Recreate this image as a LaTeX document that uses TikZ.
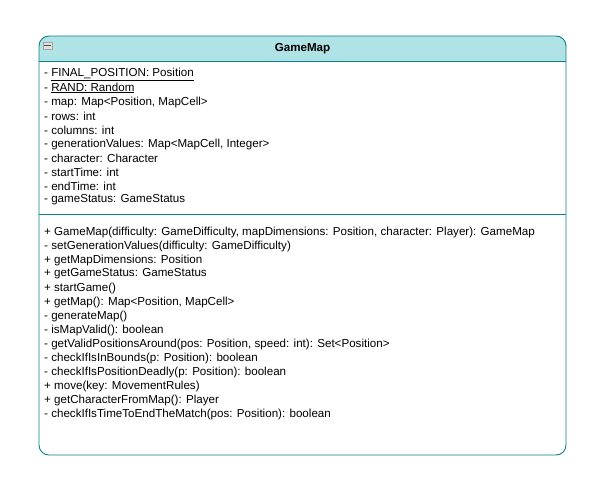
\documentclass[tikz,border=0pt]{standalone}
\usepackage{fontspec}
\setmainfont{Liberation Sans}
\definecolor{headfill}{HTML}{B0E3E6}
\definecolor{headline}{HTML}{0E8088}
\tikzset{member/.style={anchor=west,inner sep=0pt,font=\fontsize{11.6}{13}\selectfont},
  foldbox/.style={draw=gray!70,fill=gray!25,inner sep=0pt,minimum width=9pt,minimum height=7pt}}

\begin{document}
\begin{tikzpicture}[x=1pt,y=-1pt]
\useasboundingbox (0,0) rectangle (597,493);
\fill[headfill] (39,61) {[rounded corners=10pt] -- (39,36) -- (566,36)} -- (566,61) -- cycle;
\draw[headline,line width=0.9pt,rounded corners=10pt] (39,36) rectangle (566,455);
\draw[headline,line width=0.9pt] (39,61) -- (566,61);
\draw[headline,line width=0.9pt] (39,214) -- (566,214);
\node[foldbox] (fold) at (47.5,45.5) {};
\draw[black!70,line width=1.2pt] ([xshift=1.5pt]fold.west) -- ([xshift=-1.5pt]fold.east);
\node[font=\fontsize{11.6}{13}\selectfont\bfseries] (title) at (302.5,48.5) {GameMap};
% attributes
\foreach \t [count=\i] in {- \underline{FINAL\_POSITION: Position}, - \underline{RAND: Random},
  {- map: Map<Position, MapCell>}, - rows: int, - columns: int,
  {- generationValues: Map<MapCell, Integer>}, - character: Character,
  - startTime: int, - endTime: int, - gameStatus: GameStatus}
  \node[member] (attr\i) at (44,74+14*\i-14) {\t};
% methods
\foreach \t [count=\i] in {{+ GameMap(difficulty: GameDifficulty, mapDimensions: Position, character: Player): GameMap},
  - setGenerationValues(difficulty: GameDifficulty), + getMapDimensions: Position,
  + getGameStatus: GameStatus, + startGame(), {+ getMap(): Map<Position, MapCell>},
  - generateMap(), - isMapValid(): boolean,
  {- getValidPositionsAround(pos: Position, speed: int): Set<Position>},
  - checkIfIsInBounds(p: Position): boolean, - checkIfIsPositionDeadly(p: Position): boolean,
  + move(key: MovementRules), + getCharacterFromMap(): Player,
  - checkIfIsTimeToEndTheMatch(pos: Position): boolean}
  \node[member] (meth\i) at (44,232+14*\i-14) {\t};
\end{tikzpicture}
\end{document}
